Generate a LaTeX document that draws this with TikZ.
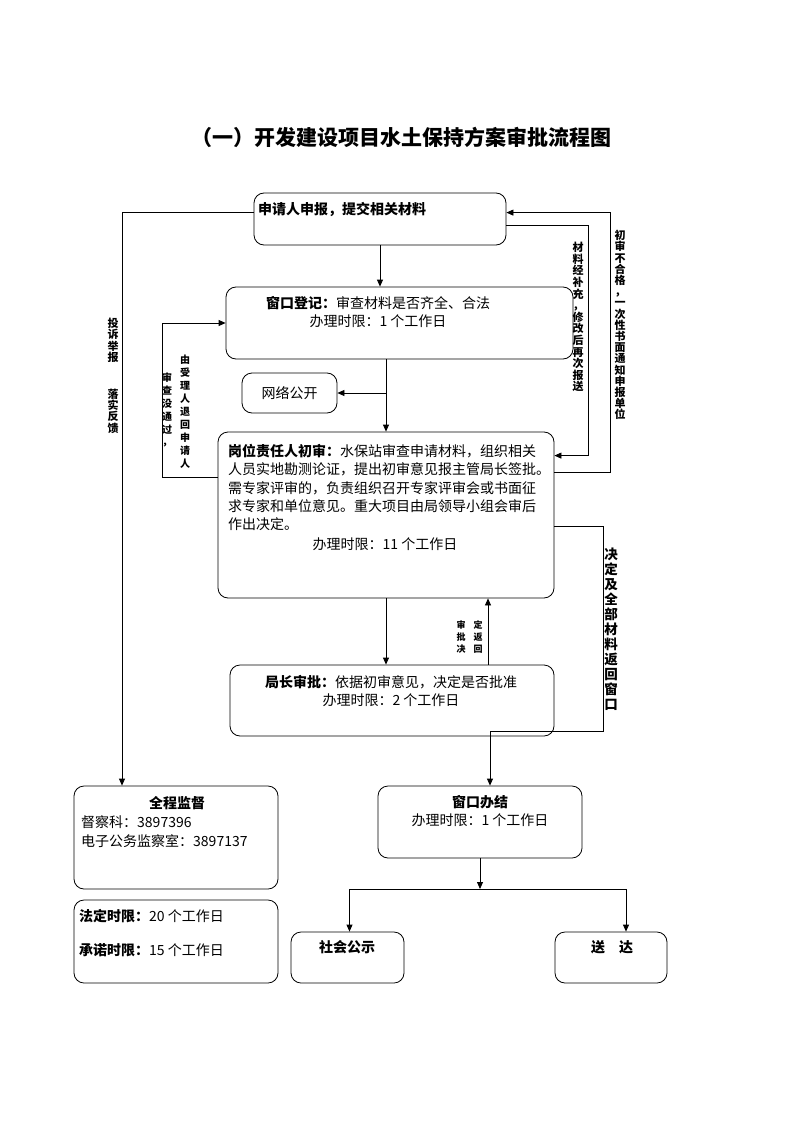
\documentclass[tikz,border=0pt]{standalone}
\usepackage{fontspec}
\setmainfont{Noto Sans CJK SC}
\usetikzlibrary{arrows.meta}

\begin{document}
\begin{tikzpicture}[x=1pt, y=-1pt,
    every node/.style={font=\fontsize{14}{18.3}\selectfont, inner sep=0pt},
    box/.style={draw, line width=0.8pt, rounded corners=10pt},
    arr/.style={draw, line width=0.8pt, -{Triangle[length=7pt,width=6pt]}},
    line/.style={draw, line width=0.8pt},
    vlab/.style={align=center, font=\bfseries\fontsize{11}{11.2}\selectfont},
    title/.style={font=\bfseries\fontsize{21}{24}\selectfont}]
  \useasboundingbox (0,0) rectangle (794,1123);

  % title
  \node[title] (title) at (401,137) {（一）开发建设项目水土保持方案审批流程图};

  % boxes
  \node[box, minimum width=252pt, minimum height=52pt] (apply) at (380,219) {};
  \node[box, minimum width=347pt, minimum height=72pt] (window) at (399.5,323) {};
  \node[box, minimum width=95pt, minimum height=40pt] (net) at (289.5,393) {网络公开};
  \node[box, minimum width=336pt, minimum height=166pt] (review) at (386,515) {};
  \node[box, minimum width=324pt, minimum height=71pt] (chief) at (392,700.5) {};
  \node[box, minimum width=204pt, minimum height=103pt] (watch) at (176,837.5) {};
  \node[box, minimum width=204pt, minimum height=83pt] (limit) at (176,941.5) {};
  \node[box, minimum width=204pt, minimum height=72pt] (finish) at (480,822) {};
  \node[box, minimum width=113pt, minimum height=51pt] (public) at (347.5,957.5) {};
  \node[box, minimum width=112pt, minimum height=51pt] (send) at (611,957.5) {};

  % texts
  \node[anchor=west] (apply text) at (258,210) {\bfseries 申请人申报，提交相关材料};
  \node[align=center] (window text) at (378,312) {\textbf{窗口登记：}审查材料是否齐全、合法\\办理时限：1 个工作日};
  \node[anchor=north west, align=left] (review text) at (228,444)
    {\textbf{岗位责任人初审：}水保站审查申请材料，组织相关\\
     人员实地勘测论证，提出初审意见报主管局长签批。\\
     需专家评审的，负责组织召开专家评审会或书面征\\
     求专家和单位意见。重大项目由局领导小组会审后\\
     作出决定。};
  \node (review time) at (385,544) {办理时限：11 个工作日};
  \node[align=center] (chief text) at (391,691) {\textbf{局长审批：}依据初审意见，决定是否批准\\办理时限：2 个工作日};
  \node (watch title) at (177,803) {\bfseries 全程监督};
  \node[anchor=west] (watch tel1) at (81,822) {督察科：3897396};
  \node[anchor=west] (watch tel2) at (81,841) {电子公务监察室：3897137};
  \node[anchor=west] (limit legal) at (79,916) {\textbf{法定时限：}20 个工作日};
  \node[anchor=west] (limit promise) at (79,950) {\textbf{承诺时限：}15 个工作日};
  \node[align=center] (finish text) at (480,811) {\textbf{窗口办结}\\办理时限：1 个工作日};
  \node (public text) at (347,947) {\bfseries 社会公示};
  \node (send text) at (612,947) {\bfseries 送\hspace{1em}达};

  % main flow
  \draw[arr] (apply.south) -- (apply.south |- window.north);
  \draw[arr] (window.south -| review.north) -- (review.north);
  \draw[arr] (net.east -| review.north) -- (net.east);
  \draw[arr] (review.south) -- (review.south |- chief.north);
  \draw[arr] ([xshift=96pt]chief.north) -- ([xshift=96pt]chief.north |- review.south);

  % returns
  \draw[arr] ([yshift=-46pt]review.north west) -| ([xshift=-63pt]window.west) -- (window.west);
  \draw[arr] ([yshift=-33pt]apply.north east) -| ([xshift=34pt,yshift=-24pt]review.north east)
    -- ([yshift=-24pt]review.north east);
  \draw[arr] ([yshift=-41pt]review.north east) -| ([xshift=104pt,yshift=-20pt]apply.north east)
    -- ([yshift=-20pt]apply.north east);
  \draw[arr] ([yshift=-95pt]review.north east) -| ([xshift=49pt,yshift=5pt]chief.south east)
    -| ([xshift=10pt]finish.north);

  % supervision
  \draw[arr] ([yshift=-20pt]apply.north west) -| ([xshift=-54pt]watch.north);

  % results
  \coordinate (split) at (480,889);
  \draw[arr] (finish.south) -- (split);
  \draw[arr] (split) -| ([xshift=2pt]public.north);
  \draw[arr] (split) -| ([xshift=15pt]send.north);

  % connector labels
  \node[vlab, anchor=north] (report) at (113,318) {投\\诉\\举\\报\\[26pt]落\\实\\反\\馈};
  \node[vlab, anchor=north, font=\bfseries\fontsize{10}{12.8}\selectfont] (back1) at (167,373) {审\\查\\没\\通\\过\\，};
  \node[vlab, anchor=north, font=\bfseries\fontsize{10}{13}\selectfont] (back2) at (185,355) {由\\受\\理\\人\\退\\回\\申\\请\\人};
  \node[vlab, anchor=north, font=\bfseries\fontsize{11}{11.6}\selectfont] (resend) at (578,242)
    {材\\料\\经\\补\\充\\，\\修\\改\\后\\再\\次\\报\\送};
  \node[vlab, anchor=north] (notice) at (620,230)
    {初\\审\\不\\合\\格\\，\\一\\次\\性\\书\\面\\通\\知\\申\\报\\单\\位};
  \node[vlab, anchor=north, font=\bfseries\fontsize{13.5}{15}\selectfont] (toWindow) at (611,548)
    {决\\定\\及\\全\\部\\材\\料\\返\\回\\窗\\口};
  \node[vlab, anchor=north, font=\bfseries\fontsize{9}{12.3}\selectfont] (decide1) at (461,620) {审\\批\\决};
  \node[vlab, anchor=north, font=\bfseries\fontsize{9}{12.3}\selectfont] (decide2) at (478,620) {定\\返\\回};
\end{tikzpicture}
\end{document}
